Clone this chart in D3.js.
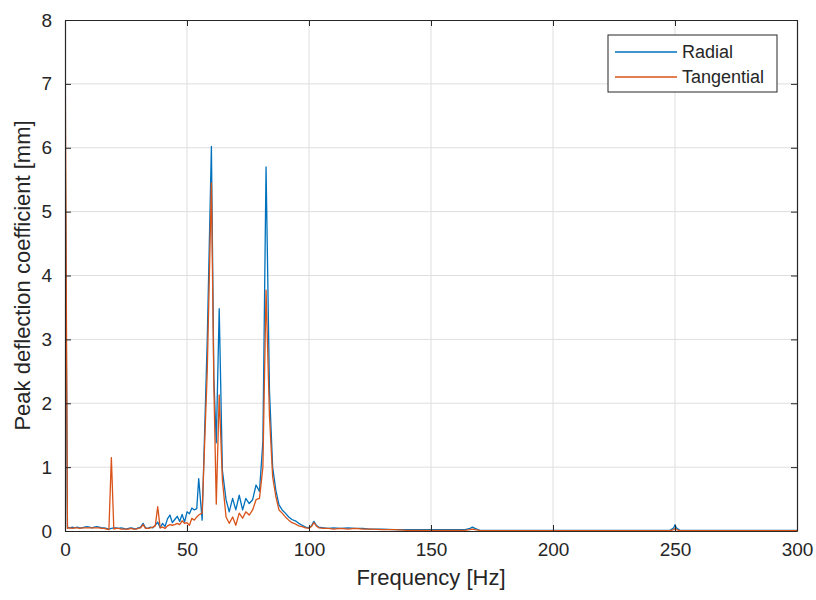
<!DOCTYPE html>
<html>
<head>
<meta charset="utf-8">
<script src="https://cdn.jsdelivr.net/npm/d3@7"></script>
<style>
  body { margin: 0; background: #fff; }
  text { font-family: "Liberation Sans", Arial, sans-serif; fill: #262626; }
</style>
</head>
<body>
<svg id="chart" width="816" height="600"></svg>
<script>
// frequency samples [Hz]
const freq = [0, 1, 2, 3, 4, 5, 6, 7, 8, 9, 10, 11, 12, 13, 14, 15, 16, 17, 18, 19,
  20, 21, 22, 23, 24, 25, 26, 27, 28, 29, 30, 31, 32, 33, 34, 35, 36, 37, 38, 39,
  40, 41, 42, 43, 44, 45, 46, 47, 48, 49, 50, 51, 52, 53, 54, 54.8, 56.2, 58.3, 60, 61,
  62, 63.2, 64.5, 66, 67.3, 68.7, 70, 71.4, 72.8, 74.1, 75.5, 76.9, 78.3, 79.7, 81.1, 82.4, 83.8, 85.1, 86.4, 87.7,
  89, 90.3, 91.7, 93, 94.4, 95.8, 97.2, 98.6, 100, 101, 102, 103, 104, 106, 108, 110, 113, 116, 119, 122,
  125, 130, 135, 140, 145, 150, 155, 160, 164, 166, 167, 168, 170, 180, 200, 230, 248, 249.5, 250, 250.5,
  252, 270, 300]

const radial = [6.6, 0.06, 0.05, 0.06, 0.05, 0.06, 0.05, 0.05, 0.06, 0.07, 0.06, 0.05, 0.06, 0.07, 0.06, 0.05, 0.05, 0.04, 0.03, 0.04,
  0.05, 0.05, 0.04, 0.05, 0.04, 0.03, 0.04, 0.05, 0.04, 0.03, 0.05, 0.06, 0.12, 0.05, 0.04, 0.06, 0.05, 0.09, 0.14, 0.05,
  0.12, 0.07, 0.19, 0.25, 0.13, 0.18, 0.23, 0.15, 0.26, 0.14, 0.30, 0.27, 0.36, 0.33, 0.35, 0.82, 0.17, 3.0, 6.02, 2.4,
  1.38, 3.48, 0.95, 0.49, 0.30, 0.51, 0.33, 0.56, 0.33, 0.51, 0.43, 0.49, 0.72, 0.62, 1.4, 5.70, 2.2, 1.0, 0.64, 0.41,
  0.33, 0.28, 0.22, 0.18, 0.16, 0.12, 0.09, 0.06, 0.05, 0.08, 0.15, 0.09, 0.06, 0.05, 0.04, 0.05, 0.04, 0.05, 0.04, 0.04,
  0.03, 0.03, 0.02, 0.02, 0.02, 0.02, 0.02, 0.02, 0.02, 0.04, 0.06, 0.04, 0.01, 0.01, 0.01, 0.01, 0.01, 0.05, 0.10, 0.05,
  0.01, 0.01, 0.01]

const tangential = [8.0, 0.04, 0.05, 0.04, 0.05, 0.05, 0.04, 0.05, 0.05, 0.05, 0.05, 0.05, 0.05, 0.05, 0.05, 0.04, 0.04, 0.03, 0.02, 1.15,
  0.03, 0.04, 0.04, 0.03, 0.03, 0.03, 0.03, 0.04, 0.03, 0.03, 0.04, 0.05, 0.10, 0.04, 0.04, 0.05, 0.06, 0.08, 0.38, 0.05,
  0.06, 0.04, 0.08, 0.10, 0.09, 0.10, 0.12, 0.10, 0.16, 0.12, 0.13, 0.09, 0.20, 0.17, 0.22, 0.25, 0.28, 2.5, 5.45, 2.3,
  0.42, 2.13, 0.80, 0.22, 0.12, 0.22, 0.09, 0.28, 0.20, 0.30, 0.25, 0.33, 0.49, 0.51, 1.0, 3.77, 1.8, 0.85, 0.54, 0.33,
  0.28, 0.22, 0.17, 0.13, 0.11, 0.08, 0.07, 0.05, 0.04, 0.07, 0.13, 0.08, 0.05, 0.04, 0.04, 0.03, 0.04, 0.03, 0.04, 0.03,
  0.03, 0.02, 0.02, 0.01, 0.01, 0.01, 0.01, 0.01, 0.01, 0.02, 0.03, 0.02, 0.01, 0.005, 0.005, 0.005, 0.005, 0.02, 0.04, 0.02,
  0.005, 0.005, 0.005]

const xTicks = [0, 50, 100, 150, 200, 250, 300]
const yTicks = [0, 1, 2, 3, 4, 5, 6, 7, 8]
const seriesNames = ["Radial", "Tangential"]
const seriesColors = ["#0072BD", "#D95319"]

const svg = d3.select("#chart")
svg.append("rect").attr("width", 816).attr("height", 600).attr("fill", "#fff")

const plot = {left: 65, right: 797, top: 20, bottom: 531}

const x = d3.scaleLinear().domain([0, 300]).range([plot.left, plot.right])
const y = d3.scaleLinear().domain([0, 8]).range([plot.bottom, plot.top])

// grid
const grid = svg.append("g").attr("class", "grid")
grid.selectAll(".gx").data(xTicks.slice(1, -1)).enter().append("line")
    .attr("x1", d => x(d)).attr("x2", d => x(d))
    .attr("y1", plot.top).attr("y2", plot.bottom)
    .attr("stroke", "#dedede").attr("stroke-width", 1)
grid.selectAll(".gy").data(yTicks.slice(1, -1)).enter().append("line")
    .attr("x1", plot.left).attr("x2", plot.right)
    .attr("y1", d => y(d)).attr("y2", d => y(d))
    .attr("stroke", "#dedede").attr("stroke-width", 1)

// lines
svg.append("defs").append("clipPath").attr("id", "plot-clip").append("rect")
    .attr("x", plot.left).attr("y", plot.top)
    .attr("width", plot.right - plot.left).attr("height", plot.bottom - plot.top)

const line = d3.line().x(d => x(d[0])).y(d => y(d[1]))
const series = [radial, tangential]
const lines_g = svg.append("g").attr("clip-path", "url(#plot-clip)")
series.forEach((vals, i) => {
    lines_g.append("path")
        .datum(freq.map((f, k) => [f, vals[k]]))
        .attr("d", line)
        .attr("fill", "none")
        .attr("stroke", seriesColors[i])
        .attr("stroke-width", 1.3)
        .attr("stroke-linejoin", "round")
})

// axes (box with inward ticks)
const tickLen = 6
const axisColor = "#262626"
const xAxis = d3.axisBottom(x).tickValues(xTicks).tickSizeInner(-tickLen).tickSizeOuter(0).tickPadding(14)
const yAxis = d3.axisLeft(y).tickValues(yTicks).tickSizeInner(-tickLen).tickSizeOuter(0).tickPadding(14)

const gx = svg.append("g").attr("transform", `translate(0,${plot.bottom})`).call(xAxis)
const gy = svg.append("g").attr("transform", `translate(${plot.left},0)`).call(yAxis)
const gxTop = svg.append("g").attr("transform", `translate(0,${plot.top})`)
    .call(d3.axisTop(x).tickValues(xTicks).tickSizeInner(-tickLen).tickSizeOuter(0).tickFormat(""))
const gyRight = svg.append("g").attr("transform", `translate(${plot.right},0)`)
    .call(d3.axisRight(y).tickValues(yTicks).tickSizeInner(-tickLen).tickSizeOuter(0).tickFormat(""))

;[gx, gy, gxTop, gyRight].forEach(g => {
    g.select(".domain").attr("stroke", axisColor).attr("stroke-width", 1.2)
    g.selectAll(".tick line").attr("stroke", axisColor).attr("stroke-width", 1)
    g.selectAll(".tick text")
        .attr("fill", axisColor)
        .style("font-family", '"Liberation Sans", Arial, sans-serif')
        .style("font-size", "19px")
})
gx.selectAll(".tick text").attr("dy", "0.71em").attr("y", 12)
gy.selectAll(".tick text").attr("x", -13)

// axis labels
svg.append("text")
    .attr("x", (plot.left + plot.right) / 2).attr("y", 585)
    .attr("text-anchor", "middle")
    .style("font-size", "22px")
    .text("Frequency [Hz]")

svg.append("text")
    .attr("transform", `translate(30,${(plot.top + plot.bottom) / 2}) rotate(-90)`)
    .attr("text-anchor", "middle")
    .style("font-size", "22px")
    .text("Peak deflection coefficient [mm]")

// legend
const legend = svg.append("g").attr("class", "legend")
legend.append("rect")
    .attr("x", 608).attr("y", 35).attr("width", 169).attr("height", 57)
    .attr("fill", "#fff").attr("stroke", axisColor).attr("stroke-width", 1)
seriesNames.forEach((name, i) => {
    const ly = 52 + i * 25
    legend.append("line")
        .attr("x1", 615).attr("x2", 677).attr("y1", ly).attr("y2", ly)
        .attr("stroke", seriesColors[i]).attr("stroke-width", 1.3)
    legend.append("text")
        .attr("x", 682).attr("y", ly + 6)
        .style("font-size", "18px")
        .text(name)
})
</script>
</body>
</html>
